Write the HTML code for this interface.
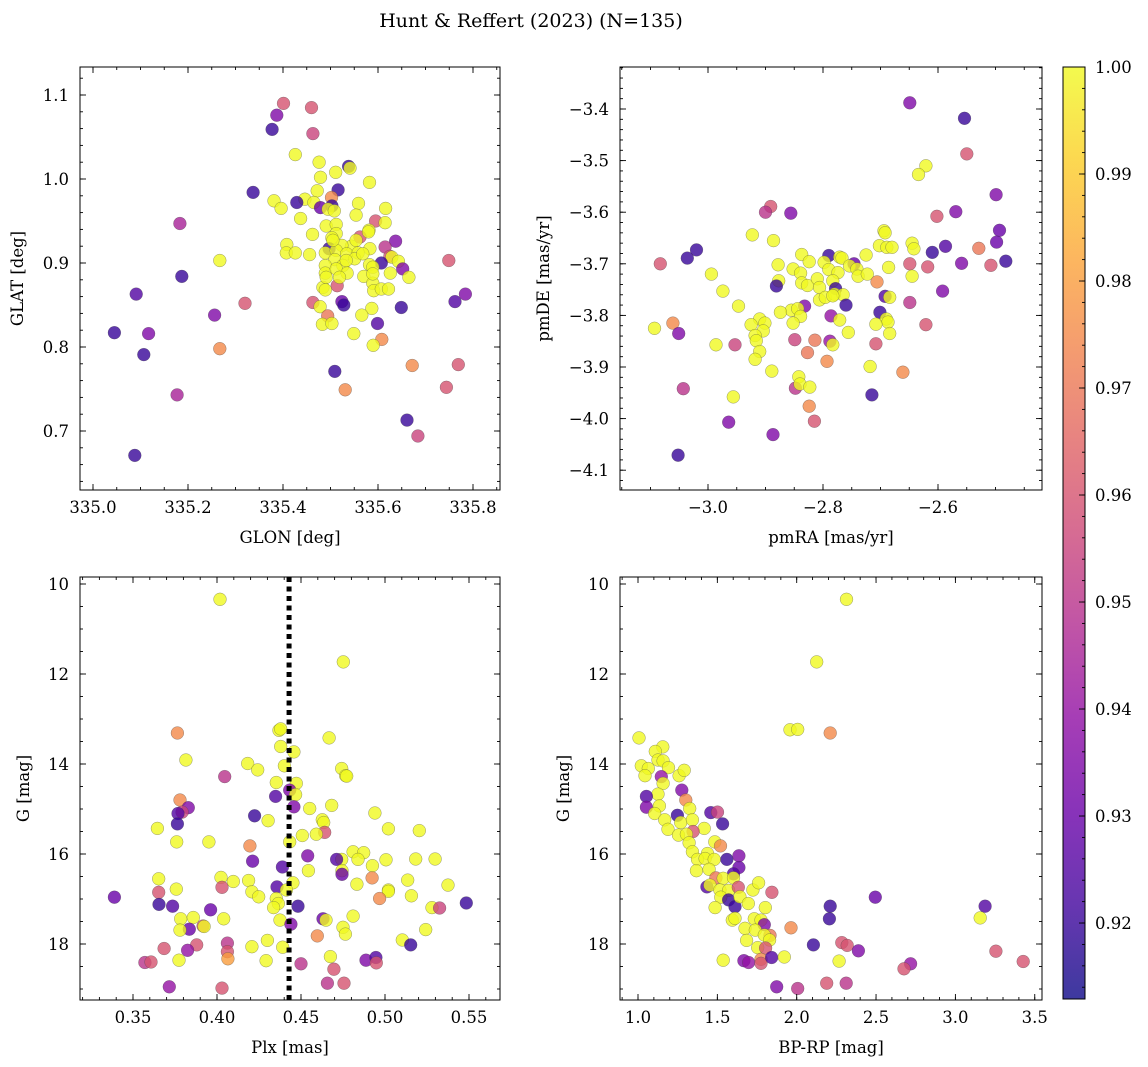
<!DOCTYPE html>
<html><head><meta charset="utf-8">
<style>
html,body{margin:0;padding:0;background:#fff;}
svg{display:block;font-family:"DejaVu Serif","Liberation Serif",serif;}
</style></head>
<body>
<svg id="fig" width="1148" height="1067" viewBox="0 0 1148 1067" xmlns="http://www.w3.org/2000/svg">
<defs>
<linearGradient id="plasmaGrad" x1="0" y1="1" x2="0" y2="0">
<stop offset="0" stop-color="#0d0887"/><stop offset="0.1" stop-color="#41049d"/><stop offset="0.2" stop-color="#6a00a8"/><stop offset="0.3" stop-color="#8f0da4"/><stop offset="0.4" stop-color="#b12a90"/><stop offset="0.5" stop-color="#cc4778"/><stop offset="0.6" stop-color="#e16462"/><stop offset="0.7" stop-color="#f2844b"/><stop offset="0.8" stop-color="#fca636"/><stop offset="0.9" stop-color="#fcce25"/><stop offset="1" stop-color="#f0f921"/>
</linearGradient>
</defs>
<text x="531" y="27" text-anchor="middle" font-size="19">Hunt &amp; Reffert (2023) (N=135)</text>
</svg>
<script>
// ---------- data ----------
const glon=[335.401,335.460,335.387,335.377,335.463,335.426,335.476,335.538,335.541,335.511,335.479,335.582,335.337,335.516,335.472,335.502,335.446,335.381,335.429,335.465,335.503,335.479,335.495,335.508,335.396,335.559,335.616,335.554,335.437,335.595,335.183,335.615,335.491,335.512,335.462,335.512,335.581,335.562,335.503,335.580,335.637,335.408,335.544,335.615,335.524,335.497,335.583,335.407,335.426,335.456,335.489,335.512,335.534,335.558,335.625,335.629,335.267,335.509,335.551,335.749,335.607,335.643,335.489,335.526,335.582,335.589,335.652,335.187,335.489,335.512,335.535,335.570,335.626,335.665,335.514,335.484,335.489,335.589,335.591,335.607,335.622,335.091,335.784,335.762,335.320,335.463,335.524,335.528,335.478,335.587,335.649,335.256,335.494,335.566,335.483,335.503,335.599,335.045,335.117,335.549,335.608,335.590,335.107,335.267,335.672,335.769,335.509,335.531,335.744,335.177,335.661,335.684,335.088,335.505,335.554,335.533,335.568,335.519,335.491,335.589];
const glat=[1.090,1.085,1.076,1.059,1.054,1.029,1.020,1.015,1.013,1.008,1.002,0.996,0.984,0.987,0.986,0.978,0.976,0.974,0.972,0.972,0.968,0.966,0.964,0.962,0.965,0.971,0.965,0.957,0.953,0.950,0.947,0.948,0.944,0.946,0.934,0.935,0.939,0.931,0.930,0.937,0.926,0.922,0.920,0.919,0.921,0.917,0.917,0.912,0.912,0.910,0.912,0.915,0.911,0.912,0.908,0.907,0.903,0.904,0.905,0.903,0.900,0.902,0.897,0.897,0.898,0.895,0.893,0.884,0.888,0.893,0.888,0.884,0.888,0.883,0.873,0.871,0.868,0.876,0.867,0.869,0.869,0.863,0.863,0.854,0.852,0.853,0.854,0.850,0.848,0.846,0.847,0.838,0.837,0.838,0.827,0.828,0.828,0.817,0.816,0.816,0.809,0.802,0.791,0.798,0.778,0.779,0.771,0.749,0.752,0.743,0.713,0.694,0.671,0.927,0.927,0.903,0.911,0.883,0.883,0.887];
const prob1=[0.96,0.96,0.935,0.92,0.955,1,1,0.92,1,1,1,1,0.92,0.92,1,0.975,1,1,0.92,1,0.92,0.93,1,1,1,1,1,1,1,0.96,0.945,1,1,1,1,1,1,0.96,1,1,0.935,1,1,0.95,1,0.92,1,1,1,1,1,1,1,1,0.96,1,1,1,1,0.96,0.92,1,1,1,1,1,0.935,0.92,1,1,1,1,1,1,0.96,1,1,1,1,1,1,0.925,0.935,0.925,0.96,0.96,0.93,0.92,1,1,0.92,0.935,0.97,1,1,1,0.925,0.92,0.935,1,0.975,1,0.92,0.975,0.975,0.96,0.92,0.975,0.96,0.945,0.92,0.955,0.92,1,1,1,1,1,1,1];

const pmra=[-2.649,-2.554,-2.550,-2.621,-2.634,-2.499,-2.891,-2.900,-2.856,-2.602,-2.569,-2.923,-2.886,-2.694,-2.692,-2.493,-2.498,-3.020,-3.036,-3.083,-2.837,-2.824,-2.790,-2.771,-2.767,-2.746,-2.725,-2.702,-2.689,-2.680,-2.645,-2.642,-2.610,-2.587,-2.529,-2.482,-2.559,-2.649,-2.618,-2.508,-2.994,-2.878,-2.852,-2.839,-2.798,-2.790,-2.774,-2.754,-2.741,-2.739,-2.723,-2.686,-2.645,-2.706,-2.877,-2.881,-2.837,-2.827,-2.810,-2.806,-2.783,-2.778,-2.974,-2.806,-2.796,-2.780,-2.765,-2.783,-2.592,-2.692,-2.684,-2.760,-2.649,-2.947,-2.832,-2.855,-2.844,-2.874,-2.701,-2.786,-2.771,-2.690,-2.687,-2.910,-2.839,-2.852,-2.925,-2.901,-3.061,-3.093,-3.051,-2.904,-2.918,-2.916,-2.756,-2.708,-2.684,-2.621,-2.986,-2.953,-2.849,-2.814,-2.788,-2.783,-2.708,-2.910,-2.918,-2.827,-2.793,-2.718,-2.661,-2.889,-2.842,-2.848,-2.840,-2.823,-2.715,-2.956,-3.043,-2.824,-2.815,-2.964,-2.887,-3.052];
const pmde=[-3.388,-3.418,-3.487,-3.510,-3.527,-3.566,-3.589,-3.600,-3.602,-3.608,-3.599,-3.644,-3.655,-3.636,-3.640,-3.635,-3.658,-3.673,-3.689,-3.700,-3.682,-3.696,-3.684,-3.687,-3.689,-3.700,-3.683,-3.665,-3.668,-3.668,-3.660,-3.671,-3.678,-3.666,-3.670,-3.695,-3.699,-3.700,-3.706,-3.703,-3.720,-3.702,-3.710,-3.718,-3.697,-3.711,-3.717,-3.704,-3.710,-3.724,-3.720,-3.707,-3.724,-3.735,-3.733,-3.743,-3.737,-3.742,-3.729,-3.746,-3.733,-3.748,-3.753,-3.770,-3.765,-3.759,-3.760,-3.762,-3.753,-3.763,-3.765,-3.780,-3.775,-3.782,-3.782,-3.790,-3.787,-3.794,-3.794,-3.801,-3.809,-3.807,-3.813,-3.807,-3.802,-3.815,-3.818,-3.815,-3.815,-3.825,-3.835,-3.830,-3.839,-3.849,-3.833,-3.817,-3.835,-3.818,-3.857,-3.857,-3.847,-3.848,-3.850,-3.857,-3.855,-3.870,-3.885,-3.872,-3.889,-3.899,-3.910,-3.908,-3.919,-3.941,-3.933,-3.939,-3.954,-3.958,-3.942,-3.976,-4.005,-4.007,-4.031,-4.071];
const prob2=[0.935,0.92,0.96,1,1,0.935,0.96,0.95,0.935,0.96,0.935,1,1,1,1,0.93,0.93,0.92,0.92,0.96,1,1,0.92,1,1,0.93,1,1,1,1,1,1,0.92,0.925,0.97,0.92,0.935,0.96,0.96,0.96,1,1,1,1,1,1,1,1,1,1,1,1,1,0.975,1,0.92,1,1,1,1,1,0.92,1,1,1,1,1,1,0.935,0.925,1,0.92,0.95,1,0.935,1,1,1,0.92,0.94,1,1,1,1,1,1,1,1,0.975,1,0.935,1,1,1,1,1,1,0.96,1,0.955,0.955,0.97,0.94,1,0.96,1,1,0.97,0.975,1,0.975,1,1,0.95,1,1,0.92,1,0.95,0.975,0.96,0.935,0.935,0.92];

const plx=[0.4018,0.4752,0.3764,0.4369,0.4379,0.4667,0.4379,0.4458,0.3815,0.4183,0.4242,0.4401,0.4742,0.4766,0.4772,0.4046,0.4353,0.4472,0.4433,0.4468,0.4349,0.3780,0.3829,0.3792,0.3768,0.4458,0.4552,0.4683,0.4224,0.4304,0.4940,0.4627,0.4635,0.3645,0.3764,0.5020,0.5204,0.4641,0.4591,0.4508,0.3760,0.3952,0.4433,0.4196,0.4540,0.4810,0.4873,0.4839,0.5006,0.5183,0.5298,0.4742,0.4712,0.4212,0.4389,0.4925,0.4544,0.4744,0.4744,0.3653,0.4024,0.4097,0.4188,0.4452,0.4923,0.4833,0.5135,0.5375,0.3758,0.4030,0.4357,0.4413,0.3653,0.4208,0.4248,0.5020,0.5020,0.5157,0.3389,0.3655,0.3736,0.4353,0.4365,0.4337,0.4482,0.4968,0.5484,0.5280,0.5325,0.3962,0.3784,0.3859,0.4040,0.4375,0.4631,0.4649,0.4810,0.3835,0.3780,0.3917,0.3923,0.4440,0.4750,0.4764,0.5242,0.4597,0.5103,0.5153,0.3685,0.3879,0.3825,0.4062,0.4062,0.4065,0.4208,0.4300,0.4391,0.3774,0.3571,0.3607,0.4292,0.4500,0.4675,0.4696,0.4887,0.4946,0.4948,0.3716,0.4030,0.4657,0.4756];
const gmag3=[10.34,11.73,13.31,13.25,13.22,13.42,13.61,13.73,13.91,13.99,14.13,14.04,14.10,14.26,14.27,14.28,14.41,14.43,14.58,14.68,14.72,14.80,14.97,15.07,15.10,14.95,14.99,14.92,15.15,15.26,15.09,15.24,15.30,15.43,15.33,15.44,15.48,15.52,15.56,15.59,15.73,15.73,15.73,15.82,16.04,15.95,15.97,16.12,16.13,16.11,16.11,16.12,16.12,16.16,16.29,16.26,16.37,16.37,16.45,16.55,16.52,16.61,16.59,16.64,16.53,16.67,16.58,16.69,16.78,16.74,16.73,16.80,16.85,16.84,16.95,16.80,16.83,16.93,16.96,17.12,17.16,16.99,17.10,17.19,17.16,16.99,17.09,17.19,17.20,17.24,17.44,17.41,17.44,17.47,17.44,17.47,17.38,17.67,17.69,17.60,17.61,17.56,17.63,17.78,17.68,17.82,17.91,18.02,18.10,18.02,18.14,17.98,18.17,18.33,18.06,17.92,18.07,18.36,18.41,18.40,18.37,18.44,18.28,18.56,18.36,18.30,18.42,18.95,18.98,18.87,18.87];
const prob3=[1,1,0.975,1,1,1,1,1,1,1,1,1,1,1,1,0.95,1,1,0.935,1,0.925,0.975,0.935,0.955,0.925,0.935,1,1,0.92,1,1,1,1,1,0.92,1,1,0.96,1,1,1,1,1,0.975,0.935,1,1,1,1,1,1,1,0.925,0.93,0.925,1,1,1,0.93,1,1,1,1,1,0.975,1,1,1,1,0.96,0.925,1,0.96,1,1,1,1,1,0.93,0.92,0.925,1,1,1,0.92,0.975,0.92,1,0.955,0.93,1,1,1,1,0.93,1,1,0.93,1,0.96,1,0.935,1,1,1,0.975,1,0.92,0.96,0.96,0.94,0.95,0.96,0.98,1,1,1,1,0.95,0.96,1,0.95,1,0.96,0.935,0.925,0.96,0.94,0.96,0.95,0.96];
const plxLine=[0.4429];

const bprp=[2.314,2.126,1.958,2.006,2.211,1.006,1.156,1.109,1.126,1.158,1.021,1.065,1.192,1.044,1.259,1.291,1.147,1.158,1.276,1.126,1.053,1.301,1.053,1.135,1.326,1.105,1.248,1.459,1.501,1.533,1.168,1.269,1.343,1.189,1.417,1.347,1.255,1.305,1.322,1.484,1.520,1.343,1.438,1.375,1.423,1.480,1.560,1.636,1.636,1.368,1.448,1.602,1.434,1.491,1.537,1.602,1.453,1.516,1.571,1.632,1.724,1.760,1.844,1.522,1.571,1.611,1.642,1.695,1.486,1.802,2.495,2.211,3.187,3.156,2.206,1.594,1.611,1.733,1.775,1.796,1.674,1.739,1.964,1.832,1.796,1.684,1.829,1.754,1.804,2.105,2.284,2.318,2.389,3.255,1.537,1.667,1.697,1.775,1.775,1.842,1.922,2.267,2.718,2.676,3.427,1.874,2.006,2.189,2.312];
const gmag4=[10.34,11.73,13.24,13.23,13.31,13.42,13.62,13.72,13.91,13.93,14.04,14.10,14.08,14.26,14.26,14.14,14.28,14.43,14.58,14.67,14.72,14.80,14.96,14.93,14.99,15.10,15.14,15.08,15.07,15.33,15.24,15.30,15.24,15.45,15.43,15.50,15.58,15.56,15.75,15.73,15.82,15.95,15.99,16.12,16.10,16.12,16.12,16.04,16.30,16.37,16.34,16.44,16.73,16.53,16.54,16.53,16.69,16.80,16.81,16.74,16.80,16.64,16.85,16.96,17.02,17.17,16.95,17.10,17.19,17.19,16.96,17.16,17.16,17.42,17.44,17.47,17.43,17.44,17.47,17.57,17.65,17.69,17.64,17.81,17.80,17.92,17.91,18.08,18.09,18.02,17.97,18.03,18.15,18.16,18.36,18.37,18.41,18.34,18.43,18.30,18.29,18.38,18.44,18.55,18.39,18.95,18.99,18.87,18.87];
const prob4=[1,1,1,1,0.975,1,1,1,1,1,1,1,1,1,1,1,0.94,1,0.935,1,0.925,0.975,0.935,1,1,1,0.92,0.925,0.955,0.92,1,1,1,1,1,0.96,1,1,1,1,0.975,1,1,1,1,1,0.92,0.935,0.93,1,1,0.925,0.925,0.97,1,1,1,1,1,0.96,1,1,0.96,1,0.92,0.92,1,1,1,1,0.93,0.92,0.925,1,0.92,1,1,1,1,0.935,1,1,0.975,0.97,1,1,1,1,0.96,0.92,0.96,0.96,0.935,0.96,1,0.935,0.94,0.975,0.96,0.925,1,1,0.94,0.96,0.96,0.935,0.95,0.96,0.95];

const cbTicks=[0.92,0.93,0.94,0.95,0.96,0.97,0.98,0.99,1.00];
const VMIN=0.9129, VMAX=1.0;

// ---------- helpers ----------
const NS="http://www.w3.org/2000/svg";
const svg=document.getElementById('fig');
function mk(tag,attrs,parent){const e=document.createElementNS(NS,tag);for(const k in attrs)e.setAttribute(k,attrs[k]);(parent||svg).appendChild(e);return e;}
const stops=[[13,8,135],[65,4,157],[106,0,168],[143,13,164],[177,42,144],[204,71,120],[225,100,98],[242,132,75],[252,166,54],[252,206,37],[240,249,33]];
function plasma(p){let t=(p-VMIN)/(VMAX-VMIN);t=Math.max(0,Math.min(1,t));const f=t*10;const i=Math.min(9,Math.floor(f));const r=f-i;const a=stops[i],b=stops[i+1];return `rgb(${Math.round(a[0]+(b[0]-a[0])*r)},${Math.round(a[1]+(b[1]-a[1])*r)},${Math.round(a[2]+(b[2]-a[2])*r)})`;}
function fmt(v,d){return (v<0?'\u2212':'')+Math.abs(v).toFixed(d);}

function panel(cfg){
  const g=mk('g',{});
  
  
  const L=cfg.box[0],R=cfg.box[1],T=cfg.box[2],B=cfg.box[3];
  const X=v=>cfg.x0+(v-cfg.xv0)*cfg.xs;
  const Y=v=>cfg.y0+(v-cfg.yv0)*cfg.ys;
  const clip=mk('clipPath',{id:'clip-'+cfg.name},g);
  mk('rect',{x:L,y:T,width:R-L,height:B-T},clip);
  const pts=mk('g',{'clip-path':'url(#clip-'+cfg.name+')'},g);
  
  
  for(let i=0;i<cfg.xs_.length;i++){
    const c=mk('circle',{cx:X(cfg.xs_[i]).toFixed(1),cy:Y(cfg.ys_[i]).toFixed(1),r:6.4,fill:plasma(cfg.cs[i]),'fill-opacity':0.8,stroke:'rgba(70,70,70,0.55)','stroke-width':0.5},pts);
    
    
  }
  if(cfg.vline){
    const ln=mk('line',{x1:X(cfg.vline[0]),x2:X(cfg.vline[0]),y1:T,y2:B,stroke:'#000','stroke-width':5,'stroke-dasharray':'5 4.5'},g);
    
    
  }
  const tg=mk('g',{stroke:'#000','stroke-width':0.9},g);
  const eps=1e-9;
  function rangeTicks(v0,v1,step){const out=[];const s=Math.ceil(Math.min(v0,v1)/step-eps);const e=Math.floor(Math.max(v0,v1)/step+eps);for(let k=s;k<=e;k++)out.push(k*step);return out;}
  const xvL=cfg.xv0+(L-cfg.x0)/cfg.xs, xvR=cfg.xv0+(R-cfg.x0)/cfg.xs;
  const yvT=cfg.yv0+(T-cfg.y0)/cfg.ys, yvB=cfg.yv0+(B-cfg.y0)/cfg.ys;
  rangeTicks(xvL,xvR,cfg.xminor).forEach(v=>{const x=X(v);mk('line',{x1:x,x2:x,y1:B,y2:B-3},tg);mk('line',{x1:x,x2:x,y1:T,y2:T+3},tg);});
  rangeTicks(yvT,yvB,cfg.yminor).forEach(v=>{const y=Y(v);mk('line',{x1:L,x2:L+3,y1:y,y2:y},tg);mk('line',{x1:R,x2:R-3,y1:y,y2:y},tg);});
  cfg.xticks.forEach(v=>{const x=X(v);mk('line',{x1:x,x2:x,y1:B,y2:B-6},tg);mk('line',{x1:x,x2:x,y1:T,y2:T+6},tg);
    const t=mk('text',{x:x,y:B+23,'text-anchor':'middle','font-size':16.5},g);t.textContent=fmt(v,cfg.xd);
    
    });
  cfg.yticks.forEach(v=>{const y=Y(v);mk('line',{x1:L,x2:L+6,y1:y,y2:y},tg);mk('line',{x1:R,x2:R-6,y1:y,y2:y},tg);
    const t=mk('text',{x:L-11,y:y+6,'text-anchor':'end','font-size':16.5},g);t.textContent=fmt(v,cfg.yd);
    
    });
  const fr=mk('rect',{x:L,y:T,width:R-L,height:B-T,fill:'none',stroke:'#000','stroke-width':1},g);
  
  
  const xl=mk('text',{x:(L+R)/2,y:B+53,'text-anchor':'middle','font-size':16.5},g);xl.textContent=cfg.xlabel;
  
  
  const yl=mk('text',{x:0,y:0,'text-anchor':'middle','font-size':16.5,transform:`translate(${cfg.ylx},${(T+B)/2}) rotate(-90)`},g);yl.textContent=cfg.ylabel;
  
  
}

panel({name:'glon-glat-panel',box:[80,500,67,490],x0:188,xv0:335.2,xs:475,y0:95,yv0:1.1,ys:-840,
  xs_:glon,ys_:glat,cs:prob1,xticks:[335.0,335.2,335.4,335.6,335.8],xd:1,yticks:[0.7,0.8,0.9,1.0,1.1],yd:1,
  xminor:0.05,yminor:0.02,xlabel:'GLON [deg]',ylabel:'GLAT [deg]',ylx:23});
panel({name:'pm-panel',box:[620,1042,67,490],x0:708,xv0:-3.0,xs:575,y0:109,yv0:-3.4,ys:-516,
  xs_:pmra,ys_:pmde,cs:prob2,xticks:[-3.0,-2.8,-2.6],xd:1,yticks:[-3.4,-3.5,-3.6,-3.7,-3.8,-3.9,-4.0,-4.1],yd:1,
  xminor:0.05,yminor:0.02,xlabel:'pmRA [mas/yr]',ylabel:'pmDE [mas/yr]',ylx:549});
panel({name:'plx-g-panel',box:[80,500,577,1000],x0:133,xv0:0.35,xs:1680,y0:584,yv0:10,ys:45,
  xs_:plx,ys_:gmag3,cs:prob3,xticks:[0.35,0.40,0.45,0.50,0.55],xd:2,yticks:[10,12,14,16,18],yd:0,
  xminor:0.01,yminor:0.5,xlabel:'Plx [mas]',ylabel:'G [mag]',ylx:29,vline:plxLine});
panel({name:'cmd-panel',box:[620,1042,577,1000],x0:638,xv0:1.0,xs:158.7,y0:584,yv0:10,ys:45,
  xs_:bprp,ys_:gmag4,cs:prob4,xticks:[1.0,1.5,2.0,2.5,3.0,3.5],xd:1,yticks:[10,12,14,16,18],yd:0,
  xminor:0.1,yminor:0.5,xlabel:'BP-RP [mag]',ylabel:'G [mag]',ylx:569});

// colorbar
(function(){
  const L=1063,R=1085,T=67,B=999;
  const g=mk('g',{});
  
  
  mk('rect',{x:L,y:T,width:R-L,height:B-T,fill:'url(#plasmaGrad)','fill-opacity':0.8},g);
  mk('rect',{x:L,y:T,width:R-L,height:B-T,fill:'none',stroke:'#000','stroke-width':1},g);
  const Y=v=>B-(v-VMIN)/(VMAX-VMIN)*(B-T);
  for(let k=Math.ceil(VMIN/0.002-1e-9);k*0.002<=VMAX+1e-9;k++){const y=Y(k*0.002);mk('line',{x1:R,x2:R-3,y1:y,y2:y,stroke:'#000','stroke-width':0.9},g);}
  cbTicks.forEach(v=>{const y=Y(v);mk('line',{x1:R,x2:R-6,y1:y,y2:y,stroke:'#000','stroke-width':0.9},g);
    const t=mk('text',{x:R+10,y:y+6,'font-size':16.5},g);t.textContent=v.toFixed(2);
    
    });
})();
</script>
</body></html>
